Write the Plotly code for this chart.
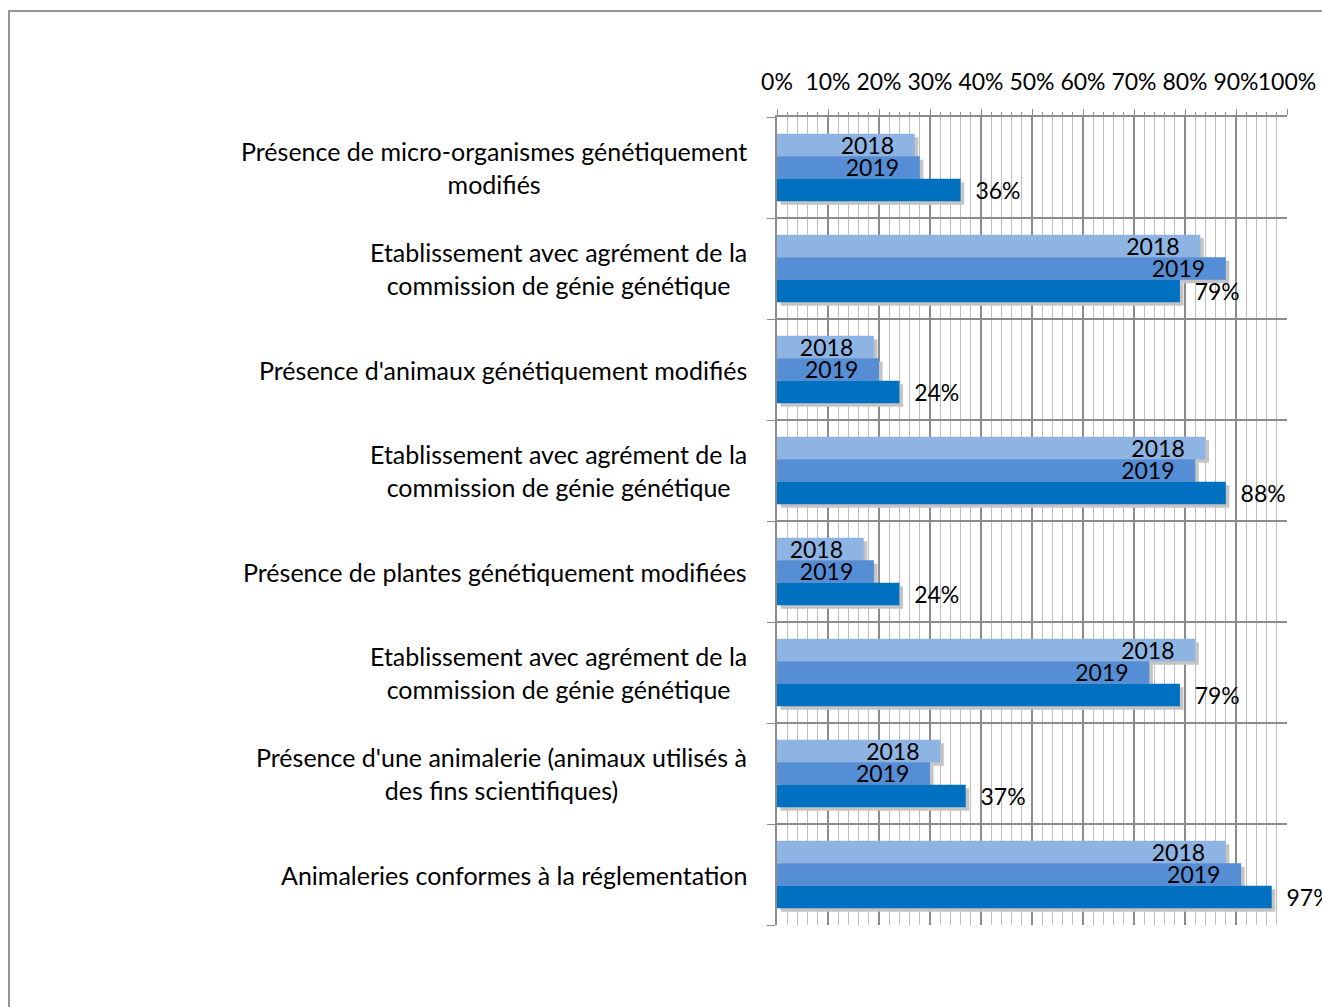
import plotly.graph_objects as go

# Categories (top to bottom)
categories = [
    "Présence de micro-organismes génétiquement<br>modifiés",
    "Etablissement avec agrément de la<br>commission de génie génétique",
    "Présence d'animaux génétiquement modifiés",
    "Etablissement avec agrément de la<br>commission de génie génétique",
    "Présence de plantes génétiquement modifiées",
    "Etablissement avec agrément de la<br>commission de génie génétique",
    "Présence d'une animalerie (animaux utilisés à<br>des fins scientifiques)",
    "Animaleries conformes à la réglementation",
]

# Shares in %, per year
values_2018 = [27, 83, 19, 84, 17, 82, 32, 88]
values_2019 = [28, 88, 20, 82, 19, 73, 30, 91]
values_2020 = [36, 79, 24, 88, 24, 79, 37, 97]

series_names = ["2018", "2019", ""]
series_colors = ["#8EB4E3", "#558ED5", "#0070C0"]

tick_values = list(range(0, 101, 10))
tick_labels = [f"{v}%" for v in tick_values]

FONT = "Lato"
NBSP = "\u00a0"
pos = list(range(len(categories)))
bar_w = 0.223
offsets = [-0.335, -0.112, 0.111]
all_values = [values_2018, values_2019, values_2020]

fig = go.Figure()

# drop shadows behind each bar
for vals, off in zip(all_values, offsets):
    fig.add_trace(go.Bar(
        y=pos, x=vals, orientation="h", base=0.7,
        width=bar_w, offset=off + 0.035,
        marker=dict(color="#C4C4C4", line=dict(width=0)),
        hoverinfo="skip", showlegend=False,
    ))

# year bars
for vals, off, name, col in zip(all_values, offsets, series_names, series_colors):
    if name:
        txt = [name + NBSP * 3] * len(vals)
        tpos = "inside"
    else:
        txt = [NBSP * 2 + f"{v}%" for v in vals]
        tpos = "outside"
    fig.add_trace(go.Bar(
        y=pos, x=vals, orientation="h",
        width=bar_w, offset=off,
        marker=dict(color=col, line=dict(width=0)),
        text=txt, textposition=tpos,
        insidetextanchor="end",
        constraintext="none",
        cliponaxis=False,
        textfont=dict(family=FONT, size=23, color="black"),
        showlegend=False,
    ))

# category labels, centred blocks to the left of the plot
for p, c in zip(pos, categories):
    fig.add_annotation(
        x=0, xref="paper", y=p, yref="y",
        text=c, showarrow=False,
        xanchor="right", yanchor="middle", align="center",
        xshift=-28,
        font=dict(family=FONT, size=25, color="black"),
    )

# outer frame
fig.add_shape(
    type="rect", xref="paper", yref="paper",
    x0=(9 - 777) / 510, x1=(1340 - 777) / 510,
    y0=-(1030 - 925) / 808, y1=1 + (117 - 11) / 808,
    line=dict(color="#959595", width=2), fillcolor="rgba(0,0,0,0)",
    layer="below",
)

fig.update_layout(
    width=1322, height=1007,
    margin=dict(l=777, r=35, t=117, b=82, autoexpand=False),
    paper_bgcolor="white", plot_bgcolor="white",
    barmode="overlay",
    font=dict(family=FONT, size=22, color="black"),
    xaxis=dict(
        side="top", range=[0, 100], automargin=False,
        tickvals=tick_values, ticktext=tick_labels,
        tickangle=0,
        ticks="outside", ticklen=6, tickcolor="#8c8c8c",
        tickfont=dict(family=FONT, size=23, color="black"),
        ticklabelstandoff=10,
        showline=True, linecolor="#8c8c8c", linewidth=2,
        showgrid=True, gridcolor="#8c8c8c", gridwidth=1.5,
        zeroline=False,
        minor=dict(dtick=2, showgrid=True, gridcolor="#BEBEBE", gridwidth=1,
                   ticks="outside", ticklen=3, tickcolor="#8c8c8c"),
    ),
    yaxis=dict(
        range=[7.5, -0.5], automargin=False,
        tickvals=[i - 0.5 for i in range(len(categories) + 1)],
        showticklabels=False,
        ticks="outside", ticklen=8, tickcolor="#8c8c8c",
        showgrid=True, gridcolor="#8c8c8c", gridwidth=1.5,
        showline=True, linecolor="#8c8c8c", linewidth=2,
        zeroline=False,
    ),
)

fig.write_html("out.html")
